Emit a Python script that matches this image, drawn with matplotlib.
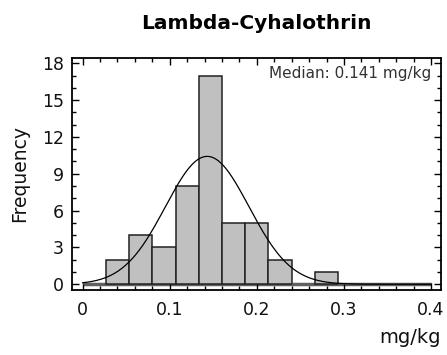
import numpy as np
import matplotlib
matplotlib.use('Agg')
import matplotlib.pyplot as plt
from matplotlib.ticker import MultipleLocator

# histogram of residue levels (mg/kg), 15 bins over 0-0.4
bin_edges = np.linspace(0, 0.4, 16)
counts = [0, 2, 4, 3, 8, 17, 5, 5, 2, 0, 1, 0, 0, 0, 0]
# normal fit parameters
fit_mean = 0.143
fit_sd = 0.048
median_txt = 'Median: 0.141 mg/kg'

plt.rcParams['font.family'] = ['DejaVu Sans']

fig = plt.figure(figsize=(4.47, 3.55), dpi=100)
ax = fig.add_axes([0.1617, 0.184, 0.825, 0.652])

width = bin_edges[1] - bin_edges[0]
edge_cols = ['#222222' if c > 0 else '#606060' for c in counts]
ax.bar(bin_edges[:-1], counts, width=width, align='edge', color='#c0c0c0',
       edgecolor=edge_cols, linewidth=1.1, zorder=2)
ax.plot([0, 0.4], [0, 0], color='#606060', lw=2.5, zorder=1.5, solid_capstyle='butt')

# fitted normal curve scaled to counts
xs = np.linspace(0, 0.4, 400)
n = sum(counts)
ys = n * width / (np.sqrt(2 * np.pi) * fit_sd) * np.exp(-0.5 * ((xs - fit_mean) / fit_sd) ** 2)
ax.plot(xs, ys, color='black', lw=0.9, zorder=3)

ax.set_xlim(-0.0119, 0.4115)
ax.set_ylim(-0.44, 18.41)
ax.set_xticks([0, 0.1, 0.2, 0.3, 0.4])
ax.set_xticklabels(['0', '0.1', '0.2', '0.3', '0.4'])
ax.set_yticks(range(0, 19, 3))
ax.xaxis.set_minor_locator(MultipleLocator(0.02))
ax.yaxis.set_minor_locator(MultipleLocator(1))
ax.tick_params(which='both', direction='in', top=True, right=True, labelsize=12.5,
               color='black', labelcolor='#111111')
ax.tick_params(which='major', length=5, width=1)
ax.tick_params(which='minor', length=3, width=1)
ax.tick_params(axis='y', pad=6)
ax.tick_params(axis='x', pad=8)
for s in ax.spines.values():
    s.set_linewidth(1.3)

ax.set_ylabel('Frequency', fontsize=13.5, labelpad=9, color='#111111')
fig.text(0.986, 0.048, 'mg/kg', ha='right', va='center', fontsize=14, color='#111111')
ax.text(0.4, 17.2, median_txt, ha='right', va='center', fontsize=11, color='#333333')
fig.text(0.574, 0.935, 'Lambda-Cyhalothrin', ha='center', va='center', fontsize=14.5, fontweight='bold')

fig.savefig('out.png', dpi=100)
